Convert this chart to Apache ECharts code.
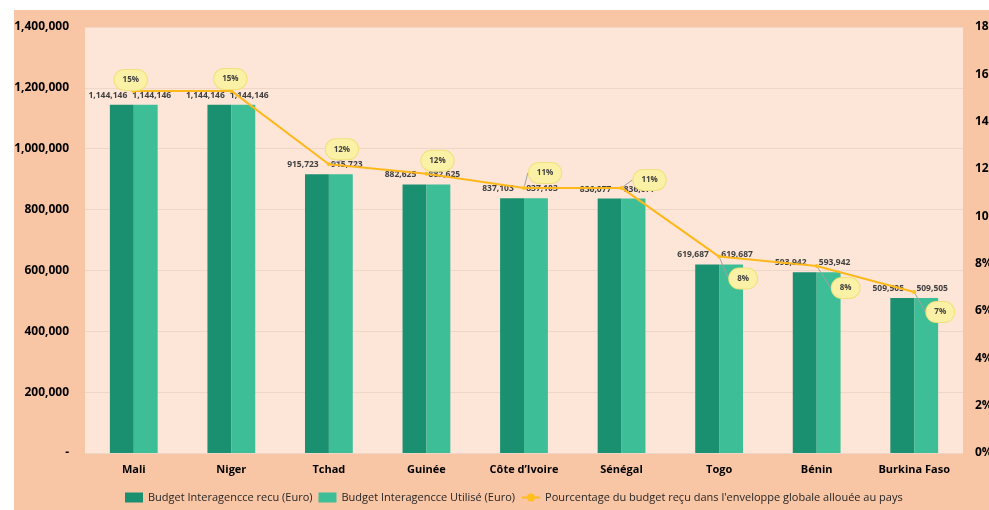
<!DOCTYPE html>
<html>
<head>
<meta charset="utf-8">
<script src="https://cdn.jsdelivr.net/npm/echarts@6/dist/echarts.min.js"></script>
<style>
  html, body { margin: 0; padding: 0; background: #ffffff; overflow: hidden; }
  #chart { position: absolute; left: 14px; top: 10px; width: 1000px; height: 500px; background: #F8C5A5; }
</style>
</head>
<body>
<div id="chart"></div>
<script>
var pays = ['Mali', 'Niger', 'Tchad', 'Guinée', 'Côte d’Ivoire', 'Sénégal', 'Togo', 'Bénin', 'Burkina Faso'];
var budgetRecu = [1144146, 1144146, 915723, 882625, 837103, 836077, 619687, 593942, 509505];
var budgetUtilise = [1144146, 1144146, 915723, 882625, 837103, 836077, 619687, 593942, 509505];
var pourcentage = [0.153, 0.153, 0.122, 0.118, 0.112, 0.112, 0.083, 0.079, 0.068];
var pctLabels = ['15%', '15%', '12%', '12%', '11%', '11%', '8%', '8%', '7%'];
// placement des bulles de pourcentage (dx, dy depuis le point)
var bubbleShift = [[-3, -11], [-1, -12], [13, -15], [11, -13], [21, -15], [28, -8], [24, 22], [29, 22], [26, 20]];

var fmt = function (v) { return v === 0 ? '-' : v.toLocaleString('en-US'); };

var myChart = echarts.init(document.getElementById('chart'));
myChart.setOption({
    textStyle: { fontFamily: 'Open Sans' },
    grid: {
        left: 71, right: 51, top: 17, bottom: 57,
        outerBoundsMode: 'none',
        containLabel: false,
        show: true, backgroundColor: '#FDE6D8', borderWidth: 0
    },
    legend: {
        bottom: 2,
        left: 106,
        itemGap: 6,
        itemWidth: 18,
        itemHeight: 10,
        textStyle: { fontSize: 11, color: '#262626', fontFamily: 'Open Sans' },
        data: [
            { name: 'Budget Interagencce recu (Euro)', icon: 'rect' },
            { name: 'Budget Interagencce Utilisé (Euro)', icon: 'rect' },
            { name: "Pourcentage du budget reçu dans l'enveloppe globale allouée au pays" }
        ]
    },
    xAxis: {
        type: 'category',
        data: pays,
        axisLine: { show: false },
        axisTick: { show: false },
        axisLabel: { fontWeight: 'bold', fontSize: 11, color: '#000', margin: 11 }
    },
    yAxis: [
        {
            type: 'value', min: 0, max: 1400000, interval: 200000,
            axisLabel: { formatter: fmt, fontWeight: 'bold', fontSize: 12, color: '#000', margin: 16 },
            splitLine: { lineStyle: { color: '#EFD6C6' } }
        },
        {
            type: 'value', min: 0, max: 0.18, interval: 0.02,
            axisLabel: {
                formatter: function (v) { return Math.round(v * 100) + '%'; },
                fontWeight: 'bold', fontSize: 12, color: '#000', margin: 12
            },
            splitLine: { show: false }
        }
    ],
    series: [
        {
            name: 'Budget Interagencce recu (Euro)',
            type: 'bar',
            data: budgetRecu,
            barWidth: '24.5%',
            barGap: '0%',
            itemStyle: { color: '#1A9070' },
            label: {
                show: true, position: 'top', offset: [-14, 0],
                formatter: function (p) { return fmt(p.value); },
                fontSize: 8.5, fontWeight: 'bold', color: '#404040'
            }
        },
        {
            name: 'Budget Interagencce Utilisé (Euro)',
            type: 'bar',
            data: budgetUtilise,
            barWidth: '24.5%',
            itemStyle: { color: '#3EBE97' },
            label: {
                show: true, position: 'top', offset: [6, 0],
                formatter: function (p) { return fmt(p.value); },
                fontSize: 8.5, fontWeight: 'bold', color: '#404040'
            }
        },
        {
            name: "Pourcentage du budget reçu dans l'enveloppe globale allouée au pays",
            type: 'line',
            yAxisIndex: 1,
            data: pourcentage,
            symbol: 'circle',
            symbolSize: 4,
            itemStyle: { color: '#FFBF1F' },
            lineStyle: { color: '#FFB81C', width: 2 },
            label: {
                show: true,
                position: 'inside',
                formatter: function (p) { return pctLabels[p.dataIndex]; },
                fontSize: 8, fontWeight: 'bold', color: '#404040',
                backgroundColor: '#FAF1A6',
                borderColor: '#F1E17C',
                borderWidth: 1,
                borderRadius: 12,
                padding: [6, 8]
            },
            labelLayout: function (p) {
                var s = bubbleShift[p.dataIndex];
                return { dx: s[0], dy: s[1] };
            },
            labelLine: { show: true, lineStyle: { color: '#A0A0A0', width: 1 } }
        }
    ]
});
</script>
</body>
</html>
